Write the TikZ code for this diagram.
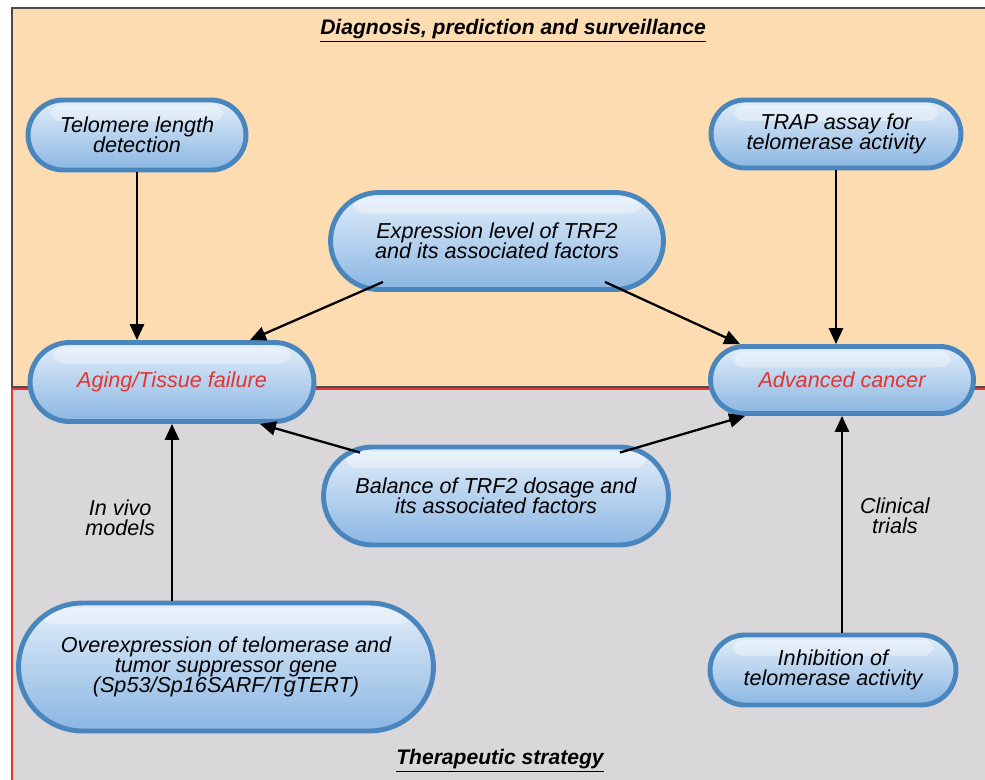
\documentclass[tikz,border=0pt]{standalone}
\usepackage{fontspec}
\setmainfont{Liberation Sans}
\usepackage{xcolor}
\usepackage{tikz}
\usetikzlibrary{arrows.meta,shapes.misc}

\definecolor{peach}{RGB}{253,220,178}
\definecolor{greybg}{RGB}{218,215,218}
\definecolor{pilltop}{RGB}{226,238,250}
\definecolor{pillbot}{RGB}{139,182,226}
\definecolor{pilledge}{RGB}{74,134,190}
\definecolor{hotred}{RGB}{226,52,48}

\begin{document}
\begin{tikzpicture}[x=0.02cm, y=-0.02cm,
    pill/.style={rounded rectangle, draw=pilledge, line width=2.8pt,
      top color=pilltop, bottom color=pillbot, align=center,
      font=\fontsize{12.3}{11.6}\selectfont\itshape, inner sep=2pt,
      path picture={\fill[white, opacity=0.35, rounded corners=6pt]
        ([xshift=0.45cm,yshift=-0.1cm]path picture bounding box.north west)
        rectangle ([xshift=-0.45cm,yshift=-0.42cm]path picture bounding box.north east);}},
    result/.style={pill, text=hotred},
    link/.style={-{Triangle[length=9pt,width=8pt]}, line width=1.3pt, black},
    side/.style={align=center, font=\fontsize{12.3}{11.6}\selectfont\itshape},
    heading/.style={font=\fontsize{12}{12}\selectfont\bfseries\itshape}]

  \useasboundingbox (0,0) rectangle (985,780);

  % Two panels
  \fill[peach] (12,8) rectangle (985,388);
  \draw[line width=1.4pt, black!70] (12,388) -- (12,8) -- (985,8);
  \fill[greybg] (12,388) rectangle (985,780);
  \draw[line width=1.4pt, black!70] (12,387) -- (985,387);
  \draw[line width=1.2pt, hotred] (12,780) -- (12,389) -- (985,389);

  % Panel titles
  \node[heading] (diag) at (513,31) {\underline{Diagnosis, prediction and surveillance}};
  \node[heading] (ther) at (500,761) {\underline{Therapeutic strategy}};

  % Boxes
  \node[pill, minimum width=4.5cm, minimum height=1.4cm] (tel) at (137,135)
    {Telomere length\\detection};
  \node[pill, minimum width=5.14cm, minimum height=1.36cm] (trap) at (836,134)
    {TRAP assay for\\telomerase activity};
  \node[pill, minimum width=6.8cm, minimum height=1.94cm] (expr) at (497,241)
    {Expression level of TRF2\\and its associated factors};
  \node[result, minimum width=5.82cm, minimum height=1.58cm] (aging) at (172,382)
    {Aging/Tissue failure};
  \node[result, minimum width=5.4cm, minimum height=1.34cm] (adv) at (842,380)
    {Advanced cancer};
  \node[pill, minimum width=7.04cm, minimum height=1.96cm] (bal) at (496,496)
    {Balance of TRF2 dosage and\\its associated factors};
  \node[pill, minimum width=8.44cm, minimum height=2.56cm] (over) at (226,667)
    {Overexpression of telomerase and\\tumor suppressor gene\\(Sp53/Sp16SARF/TgTERT)};
  \node[pill, minimum width=5.06cm, minimum height=1.4cm] (inh) at (833,670)
    {Inhibition of\\telomerase activity};

  % Arrows into the two outcomes
  \draw[link] (tel.south) -- (tel.south |- aging.north);
  \draw[link] (trap.south) -- (trap.south |- adv.north);
  \draw[link] ([xshift=-2.28cm,yshift=0.2cm]expr.south) -- ([xshift=1.56cm]aging.north);
  \draw[link] ([xshift=2.16cm,yshift=0.2cm]expr.south) -- ([xshift=-2.04cm]adv.north);
  \draw[link] ([xshift=-2.72cm,yshift=-0.16cm]bal.north) -- ([xshift=1.76cm]aging.south);
  \draw[link] ([xshift=2.48cm,yshift=-0.16cm]bal.north) -- ([xshift=-1.94cm]adv.south);
  \draw[link] (aging.south |- over.north) -- (aging.south)
    node[side, pos=0.47, left=0.2cm] {In vivo\\models};
  \draw[link] (adv.south |- inh.north) -- (adv.south)
    node[side, pos=0.54, right=0.22cm] {Clinical\\trials};

\end{tikzpicture}
\end{document}
